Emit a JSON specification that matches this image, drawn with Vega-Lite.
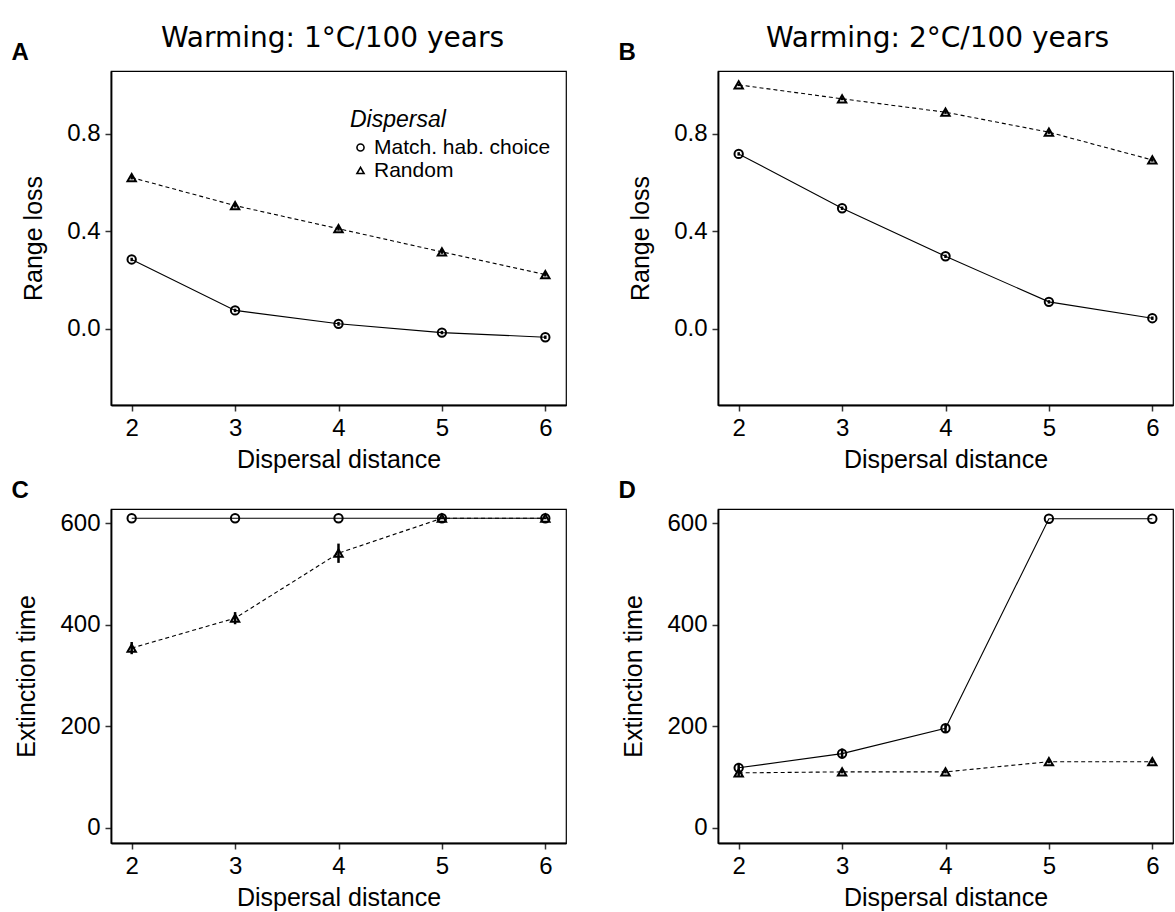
{
  "$schema": "https://vega.github.io/schema/vega-lite/v6.json",
  "background": "white",
  "autosize": {"type": "pad"},
  "padding": {"left": 10, "top": 24, "right": 0, "bottom": 0},
  "datasets": {
    "d": [
      {"panel": "A", "dist": 2, "disp": "Match. hab. choice", "val": 0.284, "lo": 0.277, "hi": 0.291},
      {"panel": "A", "dist": 3, "disp": "Match. hab. choice", "val": 0.075, "lo": 0.068, "hi": 0.082},
      {"panel": "A", "dist": 4, "disp": "Match. hab. choice", "val": 0.020, "lo": 0.012, "hi": 0.028},
      {"panel": "A", "dist": 5, "disp": "Match. hab. choice", "val": -0.016, "lo": -0.023, "hi": -0.009},
      {"panel": "A", "dist": 6, "disp": "Match. hab. choice", "val": -0.035, "lo": -0.042, "hi": -0.028},
      {"panel": "A", "dist": 2, "disp": "Random", "val": 0.620, "lo": 0.612, "hi": 0.628},
      {"panel": "A", "dist": 3, "disp": "Random", "val": 0.505, "lo": 0.497, "hi": 0.513},
      {"panel": "A", "dist": 4, "disp": "Random", "val": 0.410, "lo": 0.402, "hi": 0.418},
      {"panel": "A", "dist": 5, "disp": "Random", "val": 0.315, "lo": 0.307, "hi": 0.323},
      {"panel": "A", "dist": 6, "disp": "Random", "val": 0.222, "lo": 0.214, "hi": 0.230},
      {"panel": "B", "dist": 2, "disp": "Match. hab. choice", "val": 0.717, "lo": 0.710, "hi": 0.724},
      {"panel": "B", "dist": 3, "disp": "Match. hab. choice", "val": 0.494, "lo": 0.487, "hi": 0.501},
      {"panel": "B", "dist": 4, "disp": "Match. hab. choice", "val": 0.297, "lo": 0.290, "hi": 0.304},
      {"panel": "B", "dist": 5, "disp": "Match. hab. choice", "val": 0.110, "lo": 0.103, "hi": 0.117},
      {"panel": "B", "dist": 6, "disp": "Match. hab. choice", "val": 0.043, "lo": 0.036, "hi": 0.050},
      {"panel": "B", "dist": 2, "disp": "Random", "val": 1.000, "lo": 0.995, "hi": 1.004},
      {"panel": "B", "dist": 3, "disp": "Random", "val": 0.943, "lo": 0.937, "hi": 0.949},
      {"panel": "B", "dist": 4, "disp": "Random", "val": 0.888, "lo": 0.881, "hi": 0.895},
      {"panel": "B", "dist": 5, "disp": "Random", "val": 0.806, "lo": 0.799, "hi": 0.813},
      {"panel": "B", "dist": 6, "disp": "Random", "val": 0.692, "lo": 0.685, "hi": 0.699},
      {"panel": "C", "dist": 2, "disp": "Match. hab. choice", "val": 610, "lo": 610, "hi": 610},
      {"panel": "C", "dist": 3, "disp": "Match. hab. choice", "val": 610, "lo": 610, "hi": 610},
      {"panel": "C", "dist": 4, "disp": "Match. hab. choice", "val": 610, "lo": 610, "hi": 610},
      {"panel": "C", "dist": 5, "disp": "Match. hab. choice", "val": 610, "lo": 610, "hi": 610},
      {"panel": "C", "dist": 6, "disp": "Match. hab. choice", "val": 610, "lo": 610, "hi": 610},
      {"panel": "C", "dist": 2, "disp": "Random", "val": 354, "lo": 342, "hi": 366},
      {"panel": "C", "dist": 3, "disp": "Random", "val": 413, "lo": 401, "hi": 425},
      {"panel": "C", "dist": 4, "disp": "Random", "val": 541, "lo": 522, "hi": 560},
      {"panel": "C", "dist": 5, "disp": "Random", "val": 610, "lo": 608, "hi": 612},
      {"panel": "C", "dist": 6, "disp": "Random", "val": 610, "lo": 608, "hi": 612},
      {"panel": "D", "dist": 2, "disp": "Match. hab. choice", "val": 118, "lo": 110, "hi": 126},
      {"panel": "D", "dist": 3, "disp": "Match. hab. choice", "val": 146, "lo": 136, "hi": 156},
      {"panel": "D", "dist": 4, "disp": "Match. hab. choice", "val": 196, "lo": 188, "hi": 204},
      {"panel": "D", "dist": 5, "disp": "Match. hab. choice", "val": 609, "lo": 609, "hi": 609},
      {"panel": "D", "dist": 6, "disp": "Match. hab. choice", "val": 609, "lo": 609, "hi": 609},
      {"panel": "D", "dist": 2, "disp": "Random", "val": 108, "lo": 102, "hi": 114},
      {"panel": "D", "dist": 3, "disp": "Random", "val": 110, "lo": 107, "hi": 113},
      {"panel": "D", "dist": 4, "disp": "Random", "val": 110, "lo": 107, "hi": 113},
      {"panel": "D", "dist": 5, "disp": "Random", "val": 130, "lo": 127, "hi": 133},
      {"panel": "D", "dist": 6, "disp": "Random", "val": 130, "lo": 127, "hi": 133}
    ]
  },
  "data": {"name": "d"},
  "columns": 2,
  "spacing": {"row": 104, "column": 152},
  "bounds": "flush",
  "resolve": {"scale": {"x": "independent", "y": "independent", "shape": "independent"}},
  "concat": [
    {
      "width": 455, "height": 334,
      "title": {"text": "Warming: 1°C/100 years", "anchor": "middle", "frame": "group", "offset": -13, "dx": -6},
      "transform": [{"filter": "datum.panel === 'A'"}],
      "resolve": {"axis": {"x": "independent"}},
      "layer": [
        {"transform": [{"filter": "datum.disp === 'Match. hab. choice'"}],
         "mark": {"type": "line", "color": "black", "strokeWidth": 1.1},
         "encoding": {
           "x": {"field": "dist", "type": "quantitative", "scale": {"domain": [1.8, 6.2], "nice": false, "zero": false}, "axis": {"values": [2, 3, 4, 5, 6], "title": "Dispersal distance"}},
           "y": {"field": "val", "type": "quantitative", "scale": {"domain": [-0.313, 1.057], "nice": false, "zero": false}, "axis": {"values": [0, 0.4, 0.8], "format": ".1f", "title": "Range loss"}}
         }},
        {"transform": [{"filter": "datum.disp === 'Random'"}],
         "mark": {"type": "line", "color": "black", "strokeWidth": 1.1, "strokeDash": [4, 3]},
         "encoding": {
           "x": {"field": "dist", "type": "quantitative", "axis": null},
           "y": {"field": "val", "type": "quantitative", "title": "Range loss"}
         }},
        {"mark": {"type": "rule", "color": "black", "strokeWidth": 2.5},
         "encoding": {
           "x": {"field": "dist", "type": "quantitative", "axis": null},
           "y": {"field": "lo", "type": "quantitative", "title": "Range loss"},
           "y2": {"field": "hi"}
         }},
        {"mark": {"type": "point", "filled": false, "color": "black", "strokeWidth": 2, "size": 70, "opacity": 1},
         "encoding": {
           "x": {"field": "dist", "type": "quantitative", "axis": {"orient": "top", "title": "A", "labels": false, "ticks": false, "domain": false, "grid": false, "titleX": -100, "titleY": -12, "titleAlign": "left", "titleBaseline": "alphabetic", "titleAngle": 0, "titleFontWeight": "bold", "titleFontSize": 24}},
           "y": {"field": "val", "type": "quantitative", "title": "Range loss"},
           "shape": {"field": "disp", "type": "nominal", "scale": {"domain": ["Match. hab. choice", "Random"], "range": ["circle", "triangle-up"]},
             "legend": {"orient": "none", "legendX": 239, "legendY": 38, "title": "Dispersal", "titleFontStyle": "italic", "titleFontWeight": "normal", "titleFontSize": 23, "titleColor": "black", "labelFontSize": 21, "labelColor": "black", "labelLimit": 400, "symbolStrokeColor": "black", "symbolFillColor": "transparent", "symbolStrokeWidth": 1.6, "symbolSize": 50, "rowPadding": 1, "labelOffset": 3, "titlePadding": 5, "padding": 0}}
         }}
      ]
    },
    {
      "width": 455, "height": 334,
      "title": {"text": "Warming: 2°C/100 years", "anchor": "middle", "frame": "group", "offset": -13, "dx": -8},
      "transform": [{"filter": "datum.panel === 'B'"}],
      "resolve": {"axis": {"x": "independent"}},
      "layer": [
        {"transform": [{"filter": "datum.disp === 'Match. hab. choice'"}],
         "mark": {"type": "line", "color": "black", "strokeWidth": 1.1},
         "encoding": {
           "x": {"field": "dist", "type": "quantitative", "scale": {"domain": [1.8, 6.2], "nice": false, "zero": false}, "axis": {"values": [2, 3, 4, 5, 6], "title": "Dispersal distance"}},
           "y": {"field": "val", "type": "quantitative", "scale": {"domain": [-0.313, 1.057], "nice": false, "zero": false}, "axis": {"values": [0, 0.4, 0.8], "format": ".1f", "title": "Range loss"}}
         }},
        {"transform": [{"filter": "datum.disp === 'Random'"}],
         "mark": {"type": "line", "color": "black", "strokeWidth": 1.1, "strokeDash": [4, 3]},
         "encoding": {
           "x": {"field": "dist", "type": "quantitative", "axis": null},
           "y": {"field": "val", "type": "quantitative", "title": "Range loss"}
         }},
        {"mark": {"type": "rule", "color": "black", "strokeWidth": 2.5},
         "encoding": {
           "x": {"field": "dist", "type": "quantitative", "axis": null},
           "y": {"field": "lo", "type": "quantitative", "title": "Range loss"},
           "y2": {"field": "hi"}
         }},
        {"mark": {"type": "point", "filled": false, "color": "black", "strokeWidth": 2, "size": 70, "opacity": 1},
         "encoding": {
           "x": {"field": "dist", "type": "quantitative", "axis": {"orient": "top", "title": "B", "labels": false, "ticks": false, "domain": false, "grid": false, "titleX": -100, "titleY": -12, "titleAlign": "left", "titleBaseline": "alphabetic", "titleAngle": 0, "titleFontWeight": "bold", "titleFontSize": 24}},
           "y": {"field": "val", "type": "quantitative", "title": "Range loss"},
           "shape": {"field": "disp", "type": "nominal", "scale": {"domain": ["Match. hab. choice", "Random"], "range": ["circle", "triangle-up"]}, "legend": null}
         }}
      ]
    },
    {
      "width": 455, "height": 334,
      "transform": [{"filter": "datum.panel === 'C'"}],
      "resolve": {"axis": {"x": "independent"}},
      "layer": [
        {"transform": [{"filter": "datum.disp === 'Match. hab. choice'"}],
         "mark": {"type": "line", "color": "black", "strokeWidth": 1.1},
         "encoding": {
           "x": {"field": "dist", "type": "quantitative", "scale": {"domain": [1.8, 6.2], "nice": false, "zero": false}, "axis": {"values": [2, 3, 4, 5, 6], "title": "Dispersal distance"}},
           "y": {"field": "val", "type": "quantitative", "scale": {"domain": [-30.2, 628.2], "nice": false, "zero": false}, "axis": {"values": [0, 200, 400, 600], "title": "Extinction time"}}
         }},
        {"transform": [{"filter": "datum.disp === 'Random'"}],
         "mark": {"type": "line", "color": "black", "strokeWidth": 1.1, "strokeDash": [4, 3]},
         "encoding": {
           "x": {"field": "dist", "type": "quantitative", "axis": null},
           "y": {"field": "val", "type": "quantitative", "title": "Extinction time"}
         }},
        {"mark": {"type": "rule", "color": "black", "strokeWidth": 2.5},
         "encoding": {
           "x": {"field": "dist", "type": "quantitative", "axis": null},
           "y": {"field": "lo", "type": "quantitative", "title": "Extinction time"},
           "y2": {"field": "hi"}
         }},
        {"mark": {"type": "point", "filled": false, "color": "black", "strokeWidth": 2, "size": 70, "opacity": 1},
         "encoding": {
           "x": {"field": "dist", "type": "quantitative", "axis": {"orient": "top", "title": "C", "labels": false, "ticks": false, "domain": false, "grid": false, "titleX": -100, "titleY": -12, "titleAlign": "left", "titleBaseline": "alphabetic", "titleAngle": 0, "titleFontWeight": "bold", "titleFontSize": 24}},
           "y": {"field": "val", "type": "quantitative", "title": "Extinction time"},
           "shape": {"field": "disp", "type": "nominal", "scale": {"domain": ["Match. hab. choice", "Random"], "range": ["circle", "triangle-up"]}, "legend": null}
         }}
      ]
    },
    {
      "width": 455, "height": 334,
      "transform": [{"filter": "datum.panel === 'D'"}],
      "resolve": {"axis": {"x": "independent"}},
      "layer": [
        {"transform": [{"filter": "datum.disp === 'Match. hab. choice'"}],
         "mark": {"type": "line", "color": "black", "strokeWidth": 1.1},
         "encoding": {
           "x": {"field": "dist", "type": "quantitative", "scale": {"domain": [1.8, 6.2], "nice": false, "zero": false}, "axis": {"values": [2, 3, 4, 5, 6], "title": "Dispersal distance"}},
           "y": {"field": "val", "type": "quantitative", "scale": {"domain": [-30.2, 628.2], "nice": false, "zero": false}, "axis": {"values": [0, 200, 400, 600], "title": "Extinction time"}}
         }},
        {"transform": [{"filter": "datum.disp === 'Random'"}],
         "mark": {"type": "line", "color": "black", "strokeWidth": 1.1, "strokeDash": [4, 3]},
         "encoding": {
           "x": {"field": "dist", "type": "quantitative", "axis": null},
           "y": {"field": "val", "type": "quantitative", "title": "Extinction time"}
         }},
        {"mark": {"type": "rule", "color": "black", "strokeWidth": 2.5},
         "encoding": {
           "x": {"field": "dist", "type": "quantitative", "axis": null},
           "y": {"field": "lo", "type": "quantitative", "title": "Extinction time"},
           "y2": {"field": "hi"}
         }},
        {"mark": {"type": "point", "filled": false, "color": "black", "strokeWidth": 2, "size": 70, "opacity": 1},
         "encoding": {
           "x": {"field": "dist", "type": "quantitative", "axis": {"orient": "top", "title": "D", "labels": false, "ticks": false, "domain": false, "grid": false, "titleX": -100, "titleY": -12, "titleAlign": "left", "titleBaseline": "alphabetic", "titleAngle": 0, "titleFontWeight": "bold", "titleFontSize": 24}},
           "y": {"field": "val", "type": "quantitative", "title": "Extinction time"},
           "shape": {"field": "disp", "type": "nominal", "scale": {"domain": ["Match. hab. choice", "Random"], "range": ["circle", "triangle-up"]}, "legend": null}
         }}
      ]
    }
  ],
  "config": {
    "font": "Liberation Sans",
    "view": {"stroke": "black", "strokeWidth": 1.2},
    "axis": {"domainColor": "black", "domainWidth": 1.8, "tickColor": "#333333", "tickWidth": 1.5, "tickSize": 6, "labelFontSize": 24, "labelColor": "black", "labelFont": "Liberation Sans", "labelPadding": 5, "titleFont": "Liberation Sans", "titleFontSize": 25, "titleFontWeight": "normal", "titleColor": "black", "grid": false},
    "axisX": {"titlePadding": 7},
    "axisY": {"titlePadding": 20},
    "title": {"font": "DejaVu Sans", "fontSize": 28, "fontWeight": "normal", "color": "black"},
    "legend": {"labelFont": "Liberation Sans", "titleFont": "Liberation Sans"}
  }
}
